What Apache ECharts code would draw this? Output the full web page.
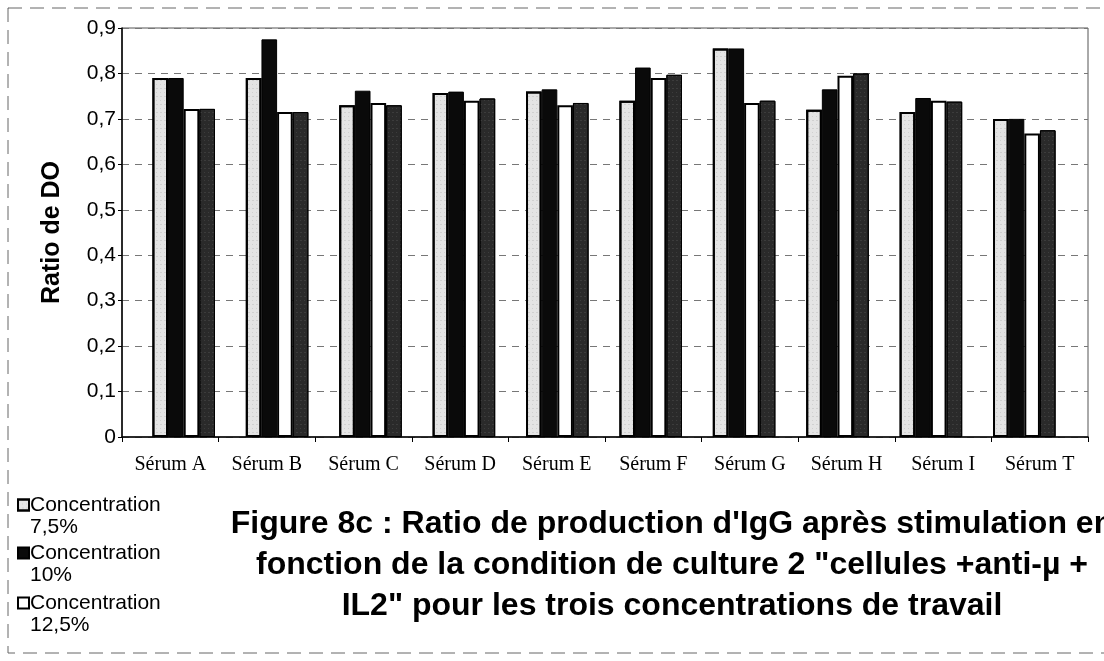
<!DOCTYPE html>
<html>
<head>
<meta charset="utf-8">
<script src="https://cdn.jsdelivr.net/npm/echarts@6/dist/echarts.min.js"></script>
<style>
  html, body { margin: 0; padding: 0; background: #fff; }
  #chart { width: 1104px; height: 661px; }
</style>
</head>
<body>
<div id="chart"></div>
<script>
// Catégories et valeurs
const serums = ['Sérum A', 'Sérum B', 'Sérum C', 'Sérum D', 'Sérum E', 'Sérum F', 'Sérum G', 'Sérum H', 'Sérum I', 'Sérum T'];
const conc75 = [0.79, 0.79, 0.73, 0.757, 0.76, 0.74, 0.855, 0.72, 0.715, 0.70];
const conc10 = [0.79, 0.875, 0.762, 0.76, 0.765, 0.813, 0.855, 0.765, 0.746, 0.70];
const conc125 = [0.722, 0.715, 0.735, 0.74, 0.73, 0.79, 0.735, 0.795, 0.74, 0.668];
const conc4 = [0.722, 0.715, 0.73, 0.745, 0.735, 0.797, 0.74, 0.80, 0.738, 0.675];
const legendNames = ['Concentration\n7,5%', 'Concentration\n10%', 'Concentration\n12,5%'];
const yTicks = { min: 0, max: 0.9, step: 0.1 };
const titleLines = [
    "Figure 8c : Ratio de production d'IgG après stimulation en",
    'fonction de la condition de culture 2 "cellules +anti-µ +',
    'IL2" pour les trois concentrations de travail'
];

const chart = echarts.init(document.getElementById('chart'));

// motif "moucheté" des barres grisées
const speckle = (c) => ({
    symbol: 'rect',
    symbolSize: 0.5,
    color: c,
    dashArrayX: [[1, 3], [2, 2]],
    dashArrayY: [1, 3],
    rotation: 0
});

const barBase = {
    type: 'bar',
    xAxisIndex: 1,
    yAxisIndex: 1,
    barGap: '0%',
    barCategoryGap: '33%'
};

// une légende par entrée ; ligne vide en tête pour que le carré
// tombe sur la ligne "Concentration"
const legendTops = [467, 515, 565];
const legends = legendNames.map((n, i) => ({
    orient: 'vertical',
    left: 12,
    top: legendTops[i],
    icon: 'rect',
    itemWidth: 11,
    itemHeight: 11,
    data: [n],
    formatter: (name) => '\n' + name,
    textStyle: {
        fontFamily: 'Liberation Sans',
        fontSize: 21,
        lineHeight: 22,
        color: '#000',
        padding: [0, 0, 0, -4]
    }
}));

const option = {
    backgroundColor: '#fff',
    animation: false,
    title: {
        text: titleLines.join('\n'),
        left: 667,
        top: 499,
        textAlign: 'center',
        textStyle: {
            fontFamily: 'Liberation Sans',
            fontWeight: 'bold',
            fontSize: 32,
            lineHeight: 41,
            color: '#000'
        }
    },
    legend: legends,
    // grille 0 : axes visibles ; grille 1 : placement des barres (décalage du scan)
    grid: [
        { left: 122, right: 16, top: 28, bottom: 224, show: true, borderColor: '#555', borderWidth: 1 },
        { left: 137, right: 33, top: 28, bottom: 224 }
    ],
    xAxis: [
        {
            type: 'category',
            gridIndex: 0,
            data: serums,
            axisLine: { lineStyle: { color: '#000', width: 1.5 } },
            axisTick: { show: true, length: 5, lineStyle: { color: '#000' } },
            axisLabel: {
                fontFamily: 'Liberation Serif',
                fontSize: 20,
                color: '#000',
                margin: 18
            }
        },
        { type: 'category', gridIndex: 1, data: serums, show: false }
    ],
    yAxis: [
        {
            type: 'value',
            gridIndex: 0,
            min: yTicks.min,
            max: yTicks.max,
            interval: yTicks.step,
            name: 'Ratio de DO',
            nameLocation: 'middle',
            nameGap: 57,
            nameTextStyle: {
                fontFamily: 'Liberation Sans',
                fontWeight: 'bold',
                fontSize: 25,
                color: '#000'
            },
            axisLine: { show: true, lineStyle: { color: '#000', width: 1.5 } },
            axisTick: { show: true, length: 4, lineStyle: { color: '#000' } },
            axisLabel: {
                fontFamily: 'Liberation Sans',
                fontSize: 21,
                color: '#000',
                margin: 6,
                formatter: (v) => (v === 0 ? '0' : v.toFixed(1).replace('.', ','))
            },
            splitLine: { lineStyle: { color: '#777', type: [7, 6], width: 1 } }
        },
        {
            type: 'value',
            gridIndex: 1,
            min: yTicks.min,
            max: yTicks.max,
            interval: yTicks.step,
            show: false,
            splitLine: { show: false }
        }
    ],
    series: [
        Object.assign({}, barBase, {
            name: legendNames[0],
            data: conc75,
            itemStyle: { color: '#e4e4e4', borderColor: '#000', borderWidth: 2, decal: speckle('rgba(0,0,0,0.35)') }
        }),
        Object.assign({}, barBase, {
            name: legendNames[1],
            data: conc10,
            itemStyle: { color: '#0a0a0a', borderColor: '#000', borderWidth: 1 }
        }),
        Object.assign({}, barBase, {
            name: legendNames[2],
            data: conc125,
            itemStyle: { color: '#fff', borderColor: '#000', borderWidth: 2 }
        }),
        Object.assign({}, barBase, {
            name: 'Série 4',
            data: conc4,
            itemStyle: { color: '#2a2a2a', borderColor: '#000', borderWidth: 1, decal: speckle('rgba(255,255,255,0.35)') }
        })
    ],
    graphic: [
        {
            type: 'rect',
            silent: true,
            shape: { x: 8, y: 8, width: 1100, height: 645 },
            style: { fill: null, stroke: '#666', lineWidth: 1, lineDash: [14, 8] }
        }
    ]
};

chart.setOption(option);
</script>
</body>
</html>
